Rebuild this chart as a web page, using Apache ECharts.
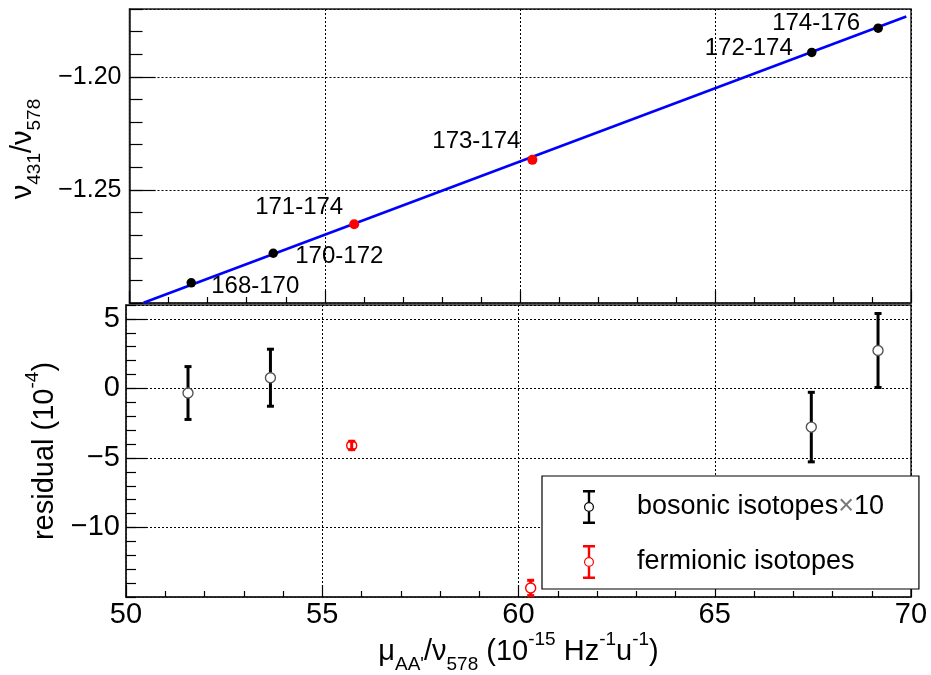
<!DOCTYPE html>
<html><head><meta charset="utf-8">
<script src="https://cdn.jsdelivr.net/npm/echarts@6/dist/echarts.min.js"></script>
<style>html,body{margin:0;padding:0;background:#fff}#c{width:931px;height:675px}</style>
</head><body><div id="c"></div>
<script>
const FONT = 'Liberation Sans';

// ---- data ----
const bosonPairs = ['168-170', '170-172', '172-174', '174-176'];
const bosonX = [51.58, 53.68, 67.46, 69.16];
const bosonRatio = [-1.2911, -1.2780, -1.1892, -1.1785];
const bosonResidual = [-0.33, 0.77, -2.78, 2.73];
const bosonResidualErr = [1.9, 2.05, 2.5, 2.66];

const fermionPairs = ['171-174', '173-174'];
const fermionX = [55.75, 60.31];
const fermionRatio = [-1.2652, -1.2367];
const fermionResidual = [-4.1, -14.35];
const fermionResidualErr = [0.3, 0.55];

const fitX = [50.36, 69.88];
const fitY = [-1.2999, -1.1733];

const legendNames = ['bosonic isotopes\u00d710', 'fermionic isotopes'];

// ---- styles (label placement relative to points) ----
const labelOffsets = {
  '168-170': [64, 4], '170-172': [66, 3], '171-174': [-55, -17],
  '173-174': [-56, -18], '172-174': [-63, -4], '174-176': [-62, -5]
};

const minus = s => String(s).replace('-', '\u2212');
const dotted = { show: true, lineStyle: { color: '#000', width: 1, type: [2, 2] } };
const axisLine = { show: true, onZero: false, lineStyle: { color: '#222', width: 1.5 } };
const rich = {
  n: { fontSize: 29, fontFamily: FONT, color: '#000', lineHeight: 44 },
  s: { fontSize: 19, fontFamily: FONT, color: '#000', verticalAlign: 'bottom' },
  p: { fontSize: 19, fontFamily: FONT, color: '#000', verticalAlign: 'top' }
};

function topPoints(xs, ys, names) {
  return xs.map((x, i) => ({
    name: names[i], value: [x, ys[i]],
    label: { offset: labelOffsets[names[i]] }
  }));
}
function errData(xs, ys, es) { return xs.map((x, i) => [x, ys[i], es[i]]); }

function errRender(barColor, ringColor) {
  return function (params, api) {
    const x = api.value(0), y = api.value(1), e = api.value(2);
    const c = api.coord([x, y]);
    const t = api.coord([x, y + e]);
    const b = api.coord([x, y - e]);
    const r = 5, cap = 3.5;
    const st = { stroke: barColor, lineWidth: 3 };
    const ch = [];
    if (t[1] < c[1] - r) ch.push({ type: 'line', shape: { x1: c[0], y1: t[1], x2: c[0], y2: c[1] - r }, style: st });
    if (b[1] > c[1] + r) ch.push({ type: 'line', shape: { x1: c[0], y1: c[1] + r, x2: c[0], y2: b[1] }, style: st });
    if (t[1] >= c[1] - r) ch.push({ type: 'line', shape: { x1: c[0], y1: t[1], x2: c[0], y2: b[1] }, style: st });
    ch.push({ type: 'line', shape: { x1: c[0] - cap, y1: t[1], x2: c[0] + cap, y2: t[1] }, style: st });
    ch.push({ type: 'line', shape: { x1: c[0] - cap, y1: b[1], x2: c[0] + cap, y2: b[1] }, style: st });
    ch.push({ type: 'circle', shape: { cx: c[0], cy: c[1], r: r }, style: { fill: 'transparent', stroke: ringColor, lineWidth: 1.4 } });
    return { type: 'group', children: ch };
  };
}

const iconPath = 'path://M0,17 M86,17 M37,0 H49 V2.5 H37 Z M41.8,2.5 H44.2 V12 H41.8 Z M41.8,22 H44.2 V31.5 H41.8 Z M37,31.5 H49 V34 H37 Z M43,12 A5,5 0 1,1 43,22 A5,5 0 1,1 43,12 Z M43,13.2 A3.8,3.8 0 1,0 43,20.8 A3.8,3.8 0 1,0 43,13.2 Z';

const pointLabel = { show: true, position: 'inside', formatter: '{b}', fontSize: 24, color: '#000',
  opacity: 1, fontFamily: FONT, textBorderWidth: 0 };

const chart = echarts.init(document.getElementById('c'));
chart.setOption({
  animation: false,
  backgroundColor: '#fff',
  textStyle: { fontFamily: FONT },
  grid: [
    { left: 126, top: 9, width: 785, height: 294, show: true, borderColor: '#222', borderWidth: 1.5 },
    { left: 126, top: 305, width: 785, height: 292, show: true, borderColor: '#222', borderWidth: 1.5 }
  ],
  xAxis: [
    { type: 'value', gridIndex: 0, position: 'bottom', min: 50, max: 70, interval: 5,
      axisLine: axisLine, axisLabel: { show: false },
      axisTick: { inside: true, length: 12, lineStyle: { color: '#000', width: 1.2 } },
      minorTick: { show: true, splitNumber: 5, length: 6, lineStyle: { color: '#000', width: 1.2 } },
      splitLine: dotted },
    { type: 'value', gridIndex: 1, position: 'bottom', min: 50, max: 70, interval: 5,
      axisLine: axisLine,
      axisLabel: { fontSize: 29, color: '#000', margin: 3, fontFamily: FONT },
      axisTick: { inside: true, length: 12, lineStyle: { color: '#000', width: 1.2 } },
      minorTick: { show: true, splitNumber: 5, length: 6, lineStyle: { color: '#000', width: 1.2 } },
      splitLine: dotted,
      name: '{n|\u03bc}{s|AA\'}{n|/\u03bd}{s|578}{n| (10}{p|-15}{n| Hz}{p|-1}{n|u}{p|-1}{n|)}',
      nameLocation: 'middle', nameGap: 31, nameTextStyle: { rich: rich } }
  ],
  yAxis: [
    { type: 'value', gridIndex: 0, position: 'left', min: -1.30, max: -1.17, interval: 0.05,
      axisLine: axisLine,
      axisLabel: { fontSize: 25, color: '#000', margin: 8, fontFamily: FONT, showMinLabel: false, showMaxLabel: false,
        formatter: v => minus(v.toFixed(2)) },
      axisTick: { inside: true, length: 26, lineStyle: { color: '#000', width: 1.2 } },
      splitLine: dotted,
      name: '{n|\u03bd}{s|431}{n|/\u03bd}{s|578}',
      nameLocation: 'middle', nameGap: 85, nameTextStyle: { rich: rich, padding: [0, 0, 0, 14] } },
    { type: 'value', gridIndex: 0, position: 'left', min: -1.30, max: -1.17, interval: 0.01,
      axisLine: { show: false }, axisLabel: { show: false }, splitLine: { show: false },
      axisTick: { inside: true, length: 13, lineStyle: { color: '#000', width: 1.2 } } },
    { type: 'value', gridIndex: 1, position: 'left', min: -15, max: 6, interval: 5,
      axisLine: axisLine,
      axisLabel: { fontSize: 29, color: '#000', margin: 6, fontFamily: FONT, showMinLabel: false, showMaxLabel: false,
        formatter: v => minus(v) },
      axisTick: { inside: true, length: 21, lineStyle: { color: '#000', width: 1.2 } },
      splitLine: dotted,
      name: '{n|residual (10}{p|-4}{n|)}',
      nameLocation: 'middle', nameGap: 56, nameTextStyle: { rich: rich } },
    { type: 'value', gridIndex: 1, position: 'left', min: -15, max: 6, interval: 1,
      axisLine: { show: false }, axisLabel: { show: false }, splitLine: { show: false },
      axisTick: { inside: true, length: 10, lineStyle: { color: '#000', width: 1.2 } } }
  ],
  legend: {
    data: [
      { name: legendNames[0], icon: iconPath, itemStyle: { color: '#000', borderWidth: 0 } },
      { name: legendNames[1], icon: iconPath, itemStyle: { color: '#ff0000', borderWidth: 0 } }
    ],
    formatter: name => name.replace('\u00d7', '{g|\u00d7}'),
    orient: 'vertical', left: 542, top: 476, padding: [14, 35, 10, 4],
    itemGap: 21, itemWidth: 86, itemHeight: 34,
    borderColor: '#000', borderWidth: 1.2, backgroundColor: '#fff',
    textStyle: { fontSize: 27, color: '#000', fontFamily: FONT,
      rich: { g: { fontSize: 27, color: '#777', fontFamily: FONT } } },
    selectedMode: false
  },
  series: [
    { type: 'line', name: 'fit', xAxisIndex: 0, yAxisIndex: 0, showSymbol: false, symbol: 'none',
      data: fitX.map((x, i) => [x, fitY[i]]),
      lineStyle: { color: '#0000ff', width: 2.6 }, clip: true, z: 2 },
    { type: 'scatter', name: 'bosonic pairs', xAxisIndex: 0, yAxisIndex: 0, symbolSize: 9.5,
      itemStyle: { color: '#000', opacity: 1 }, z: 3, label: pointLabel,
      data: topPoints(bosonX, bosonRatio, bosonPairs) },
    { type: 'scatter', name: 'fermionic pairs', xAxisIndex: 0, yAxisIndex: 0, symbolSize: 10,
      itemStyle: { color: '#ff0000', opacity: 1 }, z: 3, label: pointLabel,
      data: topPoints(fermionX, fermionRatio, fermionPairs) },
    { type: 'custom', name: legendNames[0], xAxisIndex: 1, yAxisIndex: 2,
      itemStyle: { color: '#000' }, encode: { x: 0, y: 1 },
      renderItem: errRender('#000', '#555'),
      data: errData(bosonX, bosonResidual, bosonResidualErr), z: 3 },
    { type: 'custom', name: legendNames[1], xAxisIndex: 1, yAxisIndex: 2,
      itemStyle: { color: '#ff0000' }, encode: { x: 0, y: 1 },
      renderItem: errRender('#ff0000', '#ff0000'),
      data: errData(fermionX, fermionResidual, fermionResidualErr), z: 3 }
  ]
});
</script>
</body></html>
